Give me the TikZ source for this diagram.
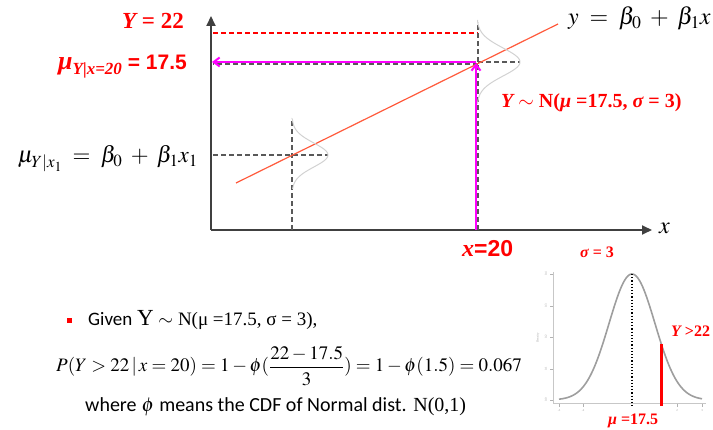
\documentclass[tikz,border=0pt]{standalone}
\usepackage{mathptmx}
\usepackage[no-math]{fontspec}
\setmainfont{Liberation Serif}
\newfontfamily\arialfont{Liberation Sans}
\newfontfamily\califont{Carlito}
\usetikzlibrary{arrows.meta}

\definecolor{lblred}{HTML}{FF0000}
\definecolor{fitred}{HTML}{FF5A3C}
\definecolor{magline}{HTML}{FF00FF}
\definecolor{bellgray}{HTML}{D2D2D2}

\begin{document}
\begin{tikzpicture}[x=1pt,y=-1pt,
  axis/.style={line width=1.8pt,black!75,-{Triangle[length=10pt,width=9pt]}},
  guide/.style={black!65,line width=1.2pt,dash pattern=on 5pt off 3pt},
  limit/.style={lblred,line width=1.4pt,dash pattern=on 5pt off 3pt},
  pointer/.style={magline,line width=2pt,-{Straight Barb[length=6pt,width=9pt]}},
  bell/.style={bellgray,line width=1pt},
  redlbl/.style={lblred,font=\bfseries},
  tiny/.style={black!40,font=\fontsize{3}{3}\selectfont,inner sep=0pt}
]
\useasboundingbox (0,0) rectangle (713,430);

% axes of the regression plot
\coordinate (orig) at (211,230);
\coordinate (ytop) at (211,16);
\coordinate (xend) at (652,230);
\draw[axis] (orig) -- (ytop);
\draw[axis] (orig) -- (xend);

% guide lines
\coordinate (y22) at (213,33);
\coordinate (x20top) at (478,33);
\coordinate (x20) at (478,230);
\coordinate (x20up) at (478,22);
\coordinate (mu20) at (478,62);
\coordinate (mu20r) at (520,62);
\coordinate (mu20l) at (213,64);
\coordinate (x1) at (292,230);
\coordinate (x1up) at (292,118);
\coordinate (mu1) at (292,155);
\coordinate (mu1l) at (213,155);
\coordinate (mu1r) at (328,155);
\draw[limit] (y22) -- (x20top);
\draw[guide] (x20) -- (x20up);
\draw[guide] (mu20) -- (mu20r);
\draw[guide] (mu20 |- mu20l) -- (mu20l);
\draw[guide] (x1) -- (x1up);
\draw[guide] (mu1l) -- (mu1r);

% fitted line
\coordinate (fitl) at (236,183);
\coordinate (fitr) at (558,24);
\draw[fitred,line width=1.2pt] (fitl) -- (fitr);

% conditional distributions
\draw[bell] plot[domain=-36:34,samples=70,variable=\t] ({292+36*exp(-0.5*(\t/12)*(\t/12))},{155+\t});
\draw[bell] plot[domain=-42:42,samples=80,variable=\t] ({477+43*exp(-0.5*(\t/14)*(\t/14))},{62+\t});

% pointers at x = 20
\draw[pointer] (476,230) -- (476,63);
\draw[pointer] (476,62) -- (212,62);

% labels of the regression plot
\node[redlbl,anchor=base east,inner sep=0pt,font=\bfseries\fontsize{23}{23}\selectfont] (lbl22) at (184,29) {\itshape Y\upshape\ = 22};
\node[lblred,anchor=base east,inner sep=0pt] (lblmu20) at (187,70)
  {{\fontsize{26}{26}\selectfont\bfseries\itshape μ}\raisebox{-5pt}{\fontsize{17}{17}\selectfont\bfseries\itshape Y|x=20}{\arialfont\bfseries\fontsize{21}{21}\selectfont\ = 17.5}};
\node[anchor=base east,inner sep=0pt,font=\fontsize{23}{23}\selectfont] (lblmu1) at (198,163)
  {$\mu_{Y|x_1} \;=\; \beta_0 \;+\; \beta_1 x_1$};
\node[anchor=base west,inner sep=0pt,font=\fontsize{24}{24}\selectfont] (lblfit) at (568,25)
  {$y \;=\; \beta_0 \;+\; \beta_1 x$};
\node[redlbl,anchor=base west,inner sep=0pt,font=\bfseries\fontsize{20}{20}\selectfont] (lbldist) at (501,108)
  {\itshape Y\upshape\ $\sim$ N(\itshape μ\upshape\ =17.5, \itshape σ\upshape\ = 3)};
\node[anchor=base west,inner sep=0pt,font=\fontsize{24}{24}\selectfont] (lblx) at (659,234) {$x$};
\node[lblred,anchor=base west,inner sep=0pt] (lblx20) at (462,257)
  {{\bfseries\itshape\fontsize{24}{24}\selectfont x}{\arialfont\bfseries\fontsize{23}{23}\selectfont =20}};

% standard normal sketch
\coordinate (pk) at (632,274);
\coordinate (pkb) at (632,406);
\coordinate (tailtop) at (661,344);
\coordinate (tailb) at (661,406);
\draw[black!22,line width=1pt] (553,272) -- (553,404) -- (706,404);
\foreach \yy/\vv in {274/0.4,306/0.3,337/0.2,369/0.1,400/0.0}
  {\draw[black!30] (550,\yy) -- (553,\yy);
   \node[tiny,rotate=90] at (546,\yy) {\vv};}
\node[tiny,rotate=90] (dens) at (538,338) {Density};
\foreach \xx/\vv in {559/-3,583/-2,677/2,702/3}
  {\draw[black!30] (\xx,404) -- (\xx,407);
   \node[tiny] at (\xx,411) {\vv};}
\draw[black!38,line width=1.6pt] plot[domain=-73:70,samples=90,variable=\t] ({632+\t},{400-126*exp(-0.5*(\t/23)*(\t/23))});
\draw[black,line width=1.2pt,dotted] (pk) -- (pkb);
\draw[lblred,line width=3pt] (tailtop) -- (tailb);
\node[redlbl,anchor=base west,inner sep=0pt,font=\bfseries\fontsize{16}{16}\selectfont] (lblsig) at (580,258)
  {\itshape σ\upshape\ = 3};
\node[redlbl,anchor=base west,inner sep=0pt,font=\bfseries\fontsize{16}{16}\selectfont] (lbltail) at (671,337)
  {\itshape Y\upshape\ >22};
\node[redlbl,anchor=base west,inner sep=0pt,font=\bfseries\fontsize{16}{16}\selectfont] (lblmean) at (608,425)
  {\itshape μ\upshape\ =17.5};

% worked example
\node[fill=lblred,minimum size=5pt,inner sep=0pt] (bullet) at (69,321) {};
\node[anchor=base west,inner sep=0pt,font=\fontsize{19}{19}\selectfont] (given) at (88,326)
  {{\califont Given} {\fontsize{23}{23}\selectfont Y} $\sim$ N(μ =17.5, σ = 3),};
\node[anchor=base west,inner sep=0pt,font=\fontsize{19}{19}\selectfont] (prob) at (56,372)
  {$\displaystyle P(Y>22\,|\,x=20)=1-\phi(\frac{22-17.5}{3})=1-\phi(1.5)=0.067$};
\node[anchor=base west,inner sep=0pt,font=\fontsize{20}{20}\selectfont] (where) at (85,412)
  {{\califont where} $\phi$ {\califont means the CDF of Normal dist.} N(0,1)};
\end{tikzpicture}
\end{document}
